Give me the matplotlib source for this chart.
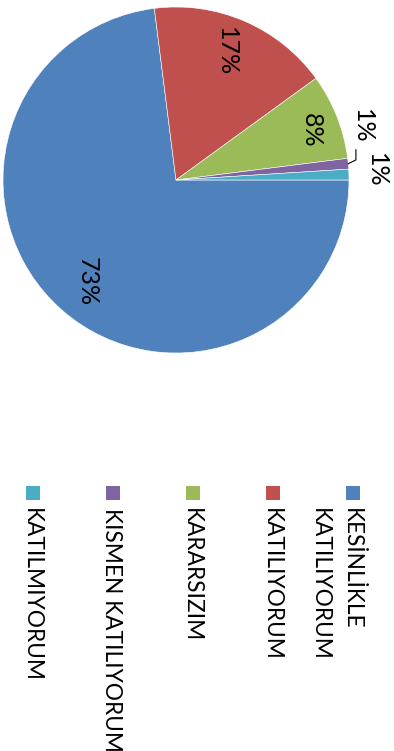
import matplotlib
matplotlib.use("Agg")
import matplotlib.pyplot as plt
from matplotlib.patches import Rectangle
import numpy as np

# Survey responses (percent)
categories = ["KESİNLİKLE\nKATILIYORUM", "KATILIYORUM", "KARARSIZIM",
              "KISMEN KATILIYORUM", "KATILMIYORUM"]
values = [73, 17, 8, 1, 1]
colors = ["#4F81BD", "#C0504D", "#9BBB59", "#8064A2", "#4BACC6"]

plt.rcParams['font.family'] = ['Lato', 'DejaVu Sans']

W, H = 394, 751
fig = plt.figure(figsize=(W / 100, H / 100), dpi=100)
fig.patch.set_facecolor("white")


def fx(px):
    return px / W


def fy(py):
    return 1 - py / H


# Pie (whole chart is laid out turned a quarter clockwise)
cx, cy, r = 176, 180, 173
ax = fig.add_axes([fx(cx - r), fy(cy + r), 2 * r / W, 2 * r / H])
wedges, texts, autotexts = ax.pie(
    values, colors=colors, startangle=0, counterclock=False,
    autopct=lambda p: f"{p:.0f}%", pctdistance=0.78,
    wedgeprops=dict(linewidth=0.4, edgecolor="white"),
    textprops=dict(fontsize=18, color="black"))
ax.set_xlim(-1, 1)
ax.set_ylim(-1, 1)
ax.set_aspect("equal")

for t in autotexts:
    t.set_rotation(-90)
    t.set_ha("center")
    t.set_va("center")

# label placement tweaks; the two thin slices get outside labels
autotexts[1].set_position((0.29, 0.74))
autotexts[2].set_position((0.78, 0.285))
autotexts[3].set_position((1.075, 0.31))
autotexts[4].set_position((1.156, 0.058))

# leader line for the purple slice
w = wedges[3]
mid = np.radians((w.theta1 + w.theta2) / 2)
ax.plot([np.cos(mid), 1.04, 1.04], [np.sin(mid), 0.116, 0.175],
        color="black", lw=0.8, clip_on=False)

# Legend, one column per category
leg_x0, leg_step, line_pitch = 353, 80, 32
for i, (lab, col) in enumerate(zip(categories, colors)):
    x = leg_x0 - leg_step * i
    fig.patches.append(Rectangle((fx(x - 7), fy(500)), 14 / W, 14 / H,
                                 transform=fig.transFigure, facecolor=col,
                                 edgecolor="none"))
    for k, line in enumerate(lab.split("\n")):
        fig.text(fx(x - line_pitch * k), fy(508), line, rotation=-90,
                 rotation_mode="anchor", ha="left", va="center_baseline",
                 fontsize=16.3, color="black")

fig.savefig("out.png", dpi=100, facecolor="white")
